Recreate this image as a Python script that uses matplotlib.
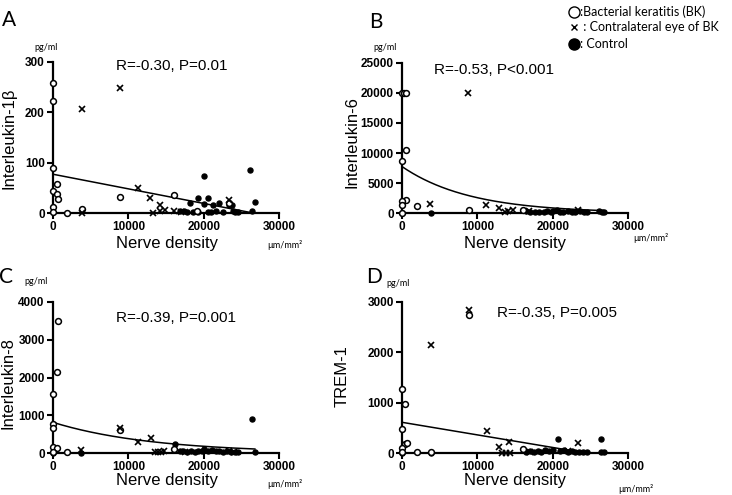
#!/usr/bin/env python3
"""Cytokine level vs corneal nerve density, four panels (A-D) with fit lines."""

import matplotlib
matplotlib.use("Agg")
import matplotlib.pyplot as plt
from matplotlib.lines import Line2D
import numpy as np

# ---------------------------------------------------------------------------
# Data
# ---------------------------------------------------------------------------

# A: Interleukin-1beta
bk_a_x = [0, 0, 0, 0, 0, 0, 490, 490, 620, 1900, 3800, 8900, 16100, 19100, 23300]
bk_a_y = [259, 222, 89, 44, 11, 2, 58, 37, 28, 0, 8, 32, 36, 3, 20]
contra_a_x = [3800, 3800, 8900, 11300, 12900, 13300, 14200, 14200, 14900, 16000, 17000, 23300]
contra_a_y = [206, 0, 248, 50, 29, 0, 15, 4, 6, 3, 2, 26]
ctrl_a_x = [16800, 17400, 17800, 18200, 18600, 19200, 19200, 20100, 20100, 20600, 20600, 21000,
            21300, 21600, 22100, 22500, 23400, 23700, 23900, 24200, 24600, 26200, 26400, 26800]
ctrl_a_y = [3, 3, 1, 19, 2, 29, 2, 73, 18, 29, 1, 2, 15, 3, 19, 2, 15, 15, 3, 2, 1, 85, 3, 22]

# B: Interleukin-6
bk_b_x = [0, 260, 530, 530, 0, 530, 0, 0, 0, 1950, 8900, 16100]
bk_b_y = [20000, 20000, 20000, 10500, 8600, 2100, 2000, 1300, 0, 1200, 500, 500]
contra_b_x = [8800, 3700, 11200, 12900, 13700, 14100, 14700, 16800, 23300]
contra_b_y = [20000, 1550, 1330, 900, 200, 300, 500, 300, 500]
ctrl_b_x = [0, 3800, 16500, 17000, 17600, 18200, 18800, 19200, 19800, 20100, 20600, 21000,
            21400, 22000, 22500, 23000, 23600, 24200, 24500, 26200, 26500, 26800]
ctrl_b_y = [0, 0, 300, 200, 150, 250, 100, 300, 200, 350, 500, 250,
            150, 300, 200, 150, 300, 200, 150, 400, 250, 150]

# C: Interleukin-8
bk_c_x = [620, 490, 0, 0, 0, 0, 490, 0, 1900, 8900, 16100]
bk_c_y = [3500, 2140, 1570, 760, 650, 170, 125, 35, 20, 610, 100]
contra_c_x = [3700, 8900, 11300, 13000, 13500, 13900, 14300, 14800, 17500, 23300, 24000]
contra_c_y = [80, 670, 300, 390, 20, 30, 20, 40, 30, 40, 20]
ctrl_c_x = [0, 3700, 16200, 16800, 17300, 17800, 18300, 18800, 19300, 19800, 20100, 20600,
            21100, 21600, 22100, 22600, 23100, 23600, 24100, 24600, 26400, 26800]
ctrl_c_y = [0, 0, 240, 40, 60, 30, 50, 20, 60, 40, 110, 50,
            70, 40, 60, 30, 50, 20, 30, 20, 900, 30]

# D: TREM-1
bk_d_x = [8900, 0, 400, 0, 400, 600, 0, 0, 1950, 3800, 16100]
bk_d_y = [2740, 1270, 970, 470, 180, 190, 100, 10, 10, 10, 80]
contra_d_x = [8900, 3800, 11300, 14200, 12900, 23300, 13300, 13800, 14300, 17000, 22000]
contra_d_y = [2850, 2150, 440, 225, 110, 190, 0, 0, 0, 20, 30]
ctrl_d_x = [0, 3800, 16500, 17000, 17500, 18000, 18500, 19000, 19500, 20000, 20700, 21000,
            21500, 22000, 22500, 23000, 23500, 24000, 24500, 26400, 26400, 26800]
ctrl_d_y = [0, 0, 20, 30, 10, 40, 20, 60, 30, 50, 280, 40,
            60, 20, 30, 10, 20, 10, 20, 280, 10, 20]

# fit lines: ("lin", intercept, slope) or ("exp", y0, decay rate)
fit_a = ("lin", 77, -0.00290)
fit_b = ("exp", 7740, 1.11e-4)
fit_c = ("exp", 812, 7.6e-5)
fit_d = ("lin", 610, -0.0250)

panel_letters = ["A", "B", "C", "D"]
y_titles = ["Interleukin-1\u03b2", "Interleukin-6", "Interleukin-8", "TREM-1"]
stats_texts = ["R=-0.30, P=0.01", "R=-0.53, P<0.001", "R=-0.39, P=0.001", "R=-0.35, P=0.005"]
y_tops = [300, 25000, 4000, 3000]
y_steps = [100, 5000, 1000, 1000]
x_ticks = [0, 10000, 20000, 30000]

# ---------------------------------------------------------------------------
# Layout (figure pixels, 732 x 495)
# ---------------------------------------------------------------------------

W, H = 732, 495
SANS = ["Liberation Sans", "DejaVu Sans"]
CAL = ["Lato", "DejaVu Sans"]

# axes box: left, right, top(px), bottom(px)
BOXES = [(53, 279, 62, 213), (402, 628, 63, 213), (53, 279, 302, 453), (402, 628, 302, 453)]
LETTER_POS = [(9, 20), (376, 22), (6, 277), (374, 277)]
PGML_POS = [(46, 47), (385, 47), (36, 282), (398, 283)]
YLABEL_POS = [(9, 138), (352, 142), (8, 383), (342, 376)]
XLABEL_POS = [(167, 243), (515, 243), (167, 481), (515, 481)]
UNIT_POS = [(267, 245), (633, 238), (267, 484), (618, 489)]
STATS_POS = [(172, 66), (494, 70), (176, 318), (557, 313)]


def fx(px):
    return px / W


def fy(py):
    return 1 - py / H


def fit_curve(fit, xs):
    kind, a, b = fit
    if kind == "lin":
        return a + b * xs
    return a * np.exp(-b * xs)


def draw_panel(fig, i, groups, fit):
    l, r, t, b = BOXES[i]
    ax = fig.add_axes([fx(l), fy(b), (r - l) / W, (b - t) / H])

    (bx, by), (cx, cy), (kx, ky) = groups
    ax.plot(kx, ky, "o", ms=3.6, mfc="black", mec="black", ls="none", clip_on=False, zorder=3)
    ax.plot(bx, by, "o", ms=4.2, mfc="white", mec="black", mew=1.1, ls="none",
            clip_on=False, zorder=4)
    ax.plot(cx, cy, "x", ms=4.0, color="black", mew=1.2, ls="none", clip_on=False, zorder=5)

    xs = np.linspace(0, 26800, 300)
    ax.plot(xs, fit_curve(fit, xs), color="black", lw=1.1, zorder=2)

    ax.set_xlim(0, 30000)
    ax.set_ylim(0, y_tops[i])
    ax.set_xticks(x_ticks)
    ax.set_yticks(np.arange(0, y_tops[i] + 1, y_steps[i]))
    for side in ("top", "right"):
        ax.spines[side].set_visible(False)
    for side in ("left", "bottom"):
        ax.spines[side].set_linewidth(1.6)
    ax.tick_params(direction="out", length=4, width=1.5, pad=2)
    for lab in ax.get_xticklabels() + ax.get_yticklabels():
        lab.set_fontfamily(SANS)
        lab.set_fontweight("bold")
        lab.set_fontsize(8.5)

    # panel texts
    fig.text(fx(LETTER_POS[i][0]), fy(LETTER_POS[i][1]), panel_letters[i],
             family=CAL, fontsize=15, ha="center", va="center")
    fig.text(fx(PGML_POS[i][0]), fy(PGML_POS[i][1]), "pg/ml",
             family=CAL, fontsize=6.5, ha="center", va="center")
    fig.text(fx(YLABEL_POS[i][0]), fy(YLABEL_POS[i][1]), y_titles[i],
             family=SANS, fontsize=12, rotation=90, ha="center", va="center")
    fig.text(fx(XLABEL_POS[i][0]), fy(XLABEL_POS[i][1]), "Nerve density",
             family=SANS, fontsize=12, ha="center", va="center")
    fig.text(fx(UNIT_POS[i][0]), fy(UNIT_POS[i][1]), "\u00b5m/mm\u00b2",
             family=CAL, fontsize=6.5, ha="left", va="center")
    fig.text(fx(STATS_POS[i][0]), fy(STATS_POS[i][1]), stats_texts[i],
             family=SANS, fontsize=11, ha="center", va="center")
    return ax


def main():
    fig = plt.figure(figsize=(W / 100, H / 100), dpi=100)

    panels = [
        (((bk_a_x, bk_a_y), (contra_a_x, contra_a_y), (ctrl_a_x, ctrl_a_y)), fit_a),
        (((bk_b_x, bk_b_y), (contra_b_x, contra_b_y), (ctrl_b_x, ctrl_b_y)), fit_b),
        (((bk_c_x, bk_c_y), (contra_c_x, contra_c_y), (ctrl_c_x, ctrl_c_y)), fit_c),
        (((bk_d_x, bk_d_y), (contra_d_x, contra_d_y), (ctrl_d_x, ctrl_d_y)), fit_d),
    ]
    for i, (groups, fit) in enumerate(panels):
        draw_panel(fig, i, groups, fit)

    # legend, top right
    legend_rows = [
        (12, dict(marker="o", ms=8, mfc="white", mec="black", mew=1.0), ":Bacterial keratitis (BK)"),
        (27, dict(marker="x", ms=5, color="black", mew=1.0), " : Contralateral eye of BK"),
        (44, dict(marker="o", ms=8, mfc="black", mec="black"), ": Control"),
    ]
    for py, mk, label in legend_rows:
        fig.add_artist(Line2D([fx(574)], [fy(py)], ls="none", transform=fig.transFigure, **mk))
        fig.text(fx(580), fy(py), label, family=CAL, fontsize=9, ha="left", va="center")

    fig.savefig("out.png", dpi=100)
    plt.close(fig)


if __name__ == "__main__":
    main()
